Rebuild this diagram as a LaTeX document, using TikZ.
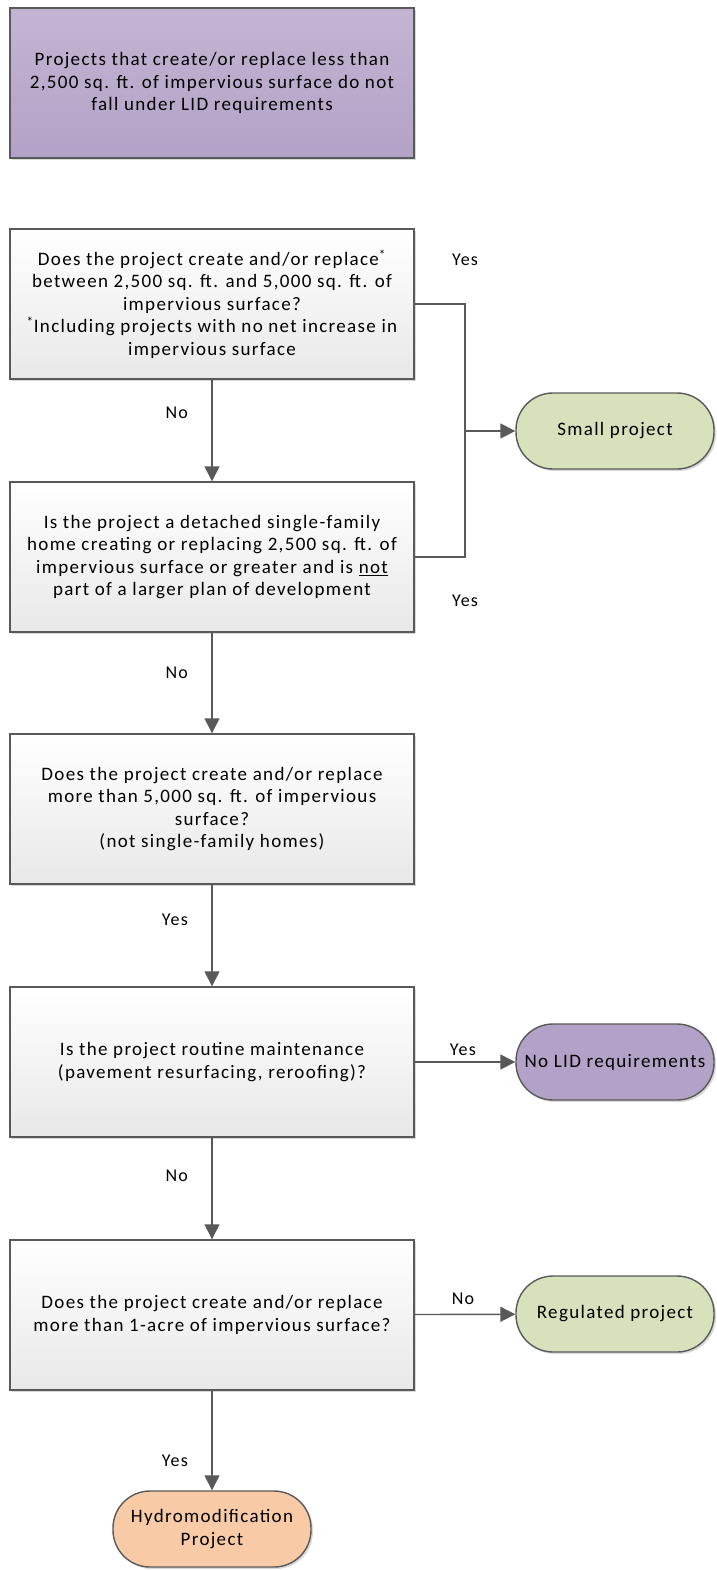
\documentclass[tikz,border=0pt]{standalone}
\usepackage{fontspec}
\setmainfont{Carlito}[LetterSpace=7]
\usetikzlibrary{arrows.meta,shadows}
\definecolor{lidline}{HTML}{595959}
\definecolor{lidpurple}{HTML}{B3A2C7}
\definecolor{lidgreen}{HTML}{D7E1BC}
\definecolor{lidorange}{HTML}{F8CBA6}
\begin{document}
\begin{tikzpicture}[x=1pt,y=-1pt,line width=1.4pt,>={Triangle[length=15pt,width=15pt]},
  every node/.style={font=\fontsize{19}{22.5}\selectfont,align=center},
  shade/.style={drop shadow={shadow xshift=2pt,shadow yshift=-2pt,opacity=0.3}},
  qbox/.style={draw=lidline,shade,top color=white,bottom color=black!9,minimum width=404pt,minimum height=150pt},
  note/.style={draw=lidline,shade,top color=lidpurple!80,bottom color=lidpurple,minimum width=404pt,minimum height=150pt},
  term/.style={draw=lidline,shade,rounded corners=37pt,minimum width=198pt,minimum height=76pt,inner sep=2pt},
  arr/.style={draw=lidline,->},
  lab/.style={font=\fontsize{18}{22}\selectfont}]
\useasboundingbox (0,0) rectangle (716,1570);
% decision boxes
\node[note] (top) at (212,83) {Projects that create/or replace less than\\2,500 sq. ft. of impervious surface do not\\fall under LID requirements};
\node[qbox] (b1) at (212,304) {Does the project create and/or replace\textsuperscript{*}\\between 2,500 sq. ft. and 5,000 sq. ft. of\\impervious surface?\\\textsuperscript{*}Including projects with no net increase in\\impervious surface};
\node[qbox] (b2) at (212,557) {Is the project a detached single-family\\home creating or replacing 2,500 sq. ft. of\\impervious surface or greater and is \underline{not}\\part of a larger plan of development};
\node[qbox] (b3) at (212,809) {Does the project create and/or replace\\more than 5,000 sq. ft. of impervious\\surface?\\(not single-family homes)};
\node[qbox] (b4) at (212,1062) {Is the project routine maintenance\\(pavement resurfacing, reroofing)?};
\node[qbox] (b5) at (212,1315) {Does the project create and/or replace\\more than 1-acre of impervious surface?};
% outcomes
\node[term,fill=lidgreen] (small) at (615,431) {Small project};
\node[term,fill=lidpurple] (nolid) at (615,1062) {No LID requirements};
\node[term,fill=lidgreen] (reg) at (615,1314) {Regulated project};
\node[term,fill=lidorange] (hydro) at (212,1529) {Hydromodification\\Project};
\coordinate (jn) at (465,431);
% connectors
\draw[draw=lidline] (b1.east) -| (jn) node[lab,pos=0.5,above=34pt]{Yes};
\draw[draw=lidline] (b2.east) -| (jn) node[lab,pos=0.5,below=34pt]{Yes};
\draw[arr] (jn) -- (small);
\draw[arr] (b1) -- (b2) node[lab,pos=0.33,left=20pt]{No};
\draw[arr] (b2) -- (b3) node[lab,pos=0.4,left=20pt]{No};
\draw[arr] (b3) -- (b4) node[lab,pos=0.35,left=20pt]{Yes};
\draw[arr] (b4) -- (b5) node[lab,pos=0.37,left=20pt]{No};
\draw[arr] (b4) -- (nolid) node[lab,pos=0.48,above=2pt]{Yes};
\draw[arr] (b5) -- (reg) node[lab,pos=0.48,above=6pt]{No};
\draw[arr] (b5) -- (hydro) node[lab,pos=0.7,left=20pt]{Yes};
\end{tikzpicture}
\end{document}
